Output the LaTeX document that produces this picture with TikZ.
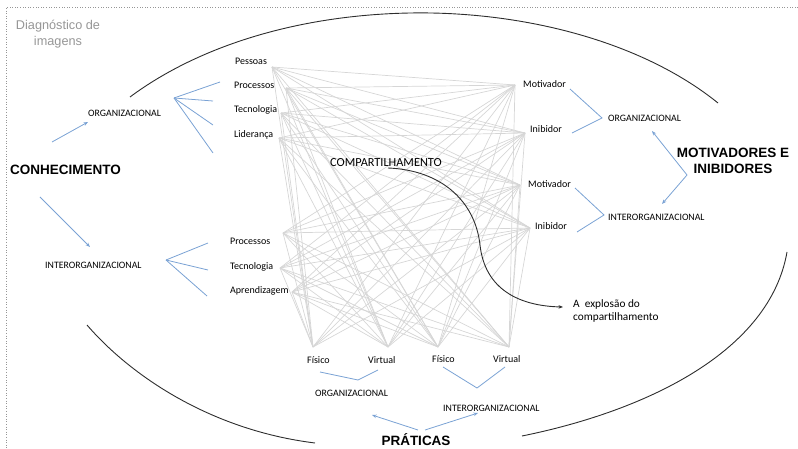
\documentclass[tikz,border=0pt]{standalone}
\usepackage{fontspec}
\setmainfont{Carlito}
\newfontfamily\headfont{Liberation Sans}
\usetikzlibrary{arrows.meta}
\definecolor{linkblue}{RGB}{122,162,212}
\definecolor{meshgrey}{RGB}{214,214,214}
\definecolor{arcgrey}{RGB}{45,45,45}
\definecolor{notegrey}{RGB}{150,150,150}
\begin{document}
\begin{tikzpicture}[x=1pt,y=-1pt,
  item/.style={anchor=west,inner sep=0pt,font=\fontsize{10}{12}\selectfont,text height=7pt,text depth=2pt},
  caps/.style={anchor=west,inner sep=0pt,font=\fontsize{9.8}{12}\selectfont,text height=7pt,text depth=0pt},
  heading/.style={inner sep=0pt,font=\headfont\bfseries\fontsize{13.5}{16}\selectfont,align=center},
  fan/.style={draw=linkblue,line width=0.8pt},
  push/.style={fan,-{Stealth[length=4.5pt,width=3.5pt]}},
  mesh/.style={draw=meshgrey,line width=0.7pt},
  rim/.style={draw=arcgrey,line width=0.9pt}]
\useasboundingbox (0,0) rectangle (798,449);

% dotted frame
\draw[notegrey,dotted,line width=0.6pt] (798,7) -- (6,7) -- (6,449);

% end points of the mesh of links
\coordinate (lA) at (272,67);
\coordinate (lB) at (286,88);
\coordinate (lC) at (281,113);
\coordinate (lD) at (279,138);
\coordinate (lE) at (283,233);
\coordinate (lF) at (280,268);
\coordinate (lG) at (292,292);
\coordinate (rA) at (515,85);
\coordinate (rB) at (525,133);
\coordinate (rC) at (520,185);
\coordinate (rD) at (530,228);
\coordinate (bA) at (313,347);
\coordinate (bB) at (388,347);
\coordinate (bC) at (438,347);
\coordinate (bD) at (509,347);

% the mesh
\foreach \l in {lA,lB,lC,lD,lE,lF,lG}{
  \foreach \r in {rA,rB,rC,rD,bA,bB,bC,bD}{
    \draw[mesh] (\l) -- (\r);
  }
}
\foreach \r in {rA,rB,rC,rD}{
  \foreach \b in {bA,bB,bC,bD}{
    \draw[mesh] (\r) -- (\b);
  }
}

% outer rim
\draw[rim] (130,97) .. controls (200,45) and (300,15) .. (410,13)
                    .. controls (520,11) and (640,40) .. (718,103);
\draw[rim] (87,325) .. controls (130,375) and (210,430) .. (315,443);
\draw[rim] (522,436) .. controls (650,410) and (770,350) .. (787,252);

% note in the corner
\node[inner sep=0pt,align=center,text=notegrey,font=\headfont\fontsize{12.7}{16}\selectfont] (note) at (58,34) {Diagnóstico de\\imagens};

% headings
\node[heading,anchor=west] (know) at (10,170) {CONHECIMENTO};
\node[heading] (motiv) at (733,161) {MOTIVADORES E\\INIBIDORES};
\node[heading] (prac) at (416,440) {PRÁTICAS};

% knowledge branch
\node[caps] (korg) at (88,113) {ORGANIZACIONAL};
\node[caps] (kint) at (45,265) {INTERORGANIZACIONAL};
\node[item] (k1) at (235,62) {Pessoas};
\node[item] (k2) at (234,86) {Processos};
\node[item] (k3) at (234,110) {Tecnologia};
\node[item] (k4) at (234,135) {Liderança};
\node[item] (k5) at (230,242) {Processos};
\node[item] (k6) at (230,267) {Tecnologia};
\node[item] (k7) at (230,291) {Aprendizagem};

\coordinate (kA0) at (52,142);
\coordinate (kA1) at (88,122);
\coordinate (kB0) at (40,197);
\coordinate (kB1) at (90,247);
\draw[push] (kA0) -- (kA1);
\draw[push] (kB0) -- (kB1);

\coordinate (fo) at (174,98);
\coordinate (fo1) at (220,82);
\coordinate (fo2) at (213,101);
\coordinate (fo3) at (213,125);
\coordinate (fo4) at (213,153);
\foreach \e in {fo1,fo2,fo3,fo4} \draw[fan] (fo) -- (\e);

\coordinate (fi) at (166,260);
\coordinate (fi1) at (208,243);
\coordinate (fi2) at (208,270);
\coordinate (fi3) at (207,296);
\foreach \e in {fi1,fi2,fi3} \draw[fan] (fi) -- (\e);

% motivators and inhibitors branch
\node[item] (m1) at (523,85) {Motivador};
\node[item] (m2) at (530,130) {Inibidor};
\node[item] (m3) at (528,185) {Motivador};
\node[item] (m4) at (535,227) {Inibidor};
\node[caps] (morg) at (608,118) {ORGANIZACIONAL};
\node[caps] (mint) at (608,217) {INTERORGANIZACIONAL};

\coordinate (mo1) at (570,89);
\coordinate (mo) at (602,118);
\coordinate (mo2) at (572,133);
\draw[fan] (mo1) -- (mo) -- (mo2);
\coordinate (mi1) at (575,188);
\coordinate (mi) at (604,215);
\coordinate (mi2) at (577,232);
\draw[fan] (mi1) -- (mi) -- (mi2);

\coordinate (mv) at (687,175);
\coordinate (mvA) at (652,131);
\coordinate (mvB) at (662,204);
\draw[push] (mv) -- (mvA);
\draw[push] (mv) -- (mvB);

% practices branch
\node[item] (p1) at (307,361) {Físico};
\node[item] (p2) at (368,361) {Virtual};
\node[item] (p3) at (432,360) {Físico};
\node[item] (p4) at (493,360) {Virtual};
\node[caps] (porg) at (315,393) {ORGANIZACIONAL};
\node[caps] (pint) at (443,408) {INTERORGANIZACIONAL};

\coordinate (po1) at (320,372);
\coordinate (po) at (358,380);
\coordinate (po2) at (378,370);
\draw[fan] (po1) -- (po) -- (po2);
\coordinate (pi1) at (443,367);
\coordinate (pi) at (477,388);
\coordinate (pi2) at (505,367);
\draw[fan] (pi1) -- (pi) -- (pi2);

\coordinate (pa0) at (418,430);
\coordinate (pa1) at (372,415);
\coordinate (pb0) at (425,430);
\coordinate (pb1) at (478,413);
\draw[push] (pa0) -- (pa1);
\draw[push] (pb0) -- (pb1);

% sharing and its explosion
\node[anchor=west,inner sep=0pt,font=\fontsize{12.3}{14}\selectfont] (share) at (330,163) {COMPARTILHAMENTO};
\node[anchor=north west,inner sep=0pt,align=left,font=\fontsize{11.3}{13}\selectfont] (boom) at (573,299) {A\ \ explosão do\\compartilhamento};
\coordinate (sh0) at (388,168);
\coordinate (sh1) at (480,245);
\coordinate (sh2) at (563,307);
\draw[arcgrey,line width=0.9pt,-{Stealth[length=4.5pt,width=3.5pt]}]
  (sh0) .. controls (440,170) and (475,200) .. (sh1)
        .. controls (485,290) and (520,306) .. (sh2);
\end{tikzpicture}
\end{document}
